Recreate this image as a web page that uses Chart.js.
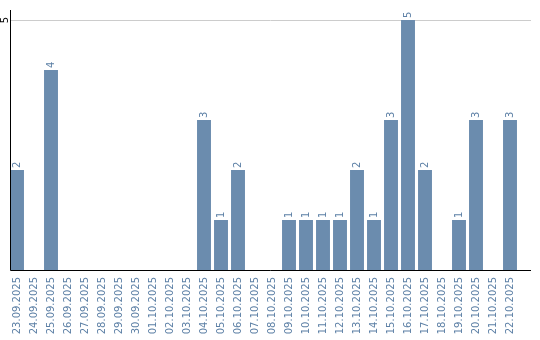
<!DOCTYPE html>
<html>
<head>
<meta charset="utf-8">
<script src="https://cdn.jsdelivr.net/npm/chart.js@4/dist/chart.umd.min.js"></script>
<style>
  html, body { margin: 0; padding: 0; background: #fff; }
  #wrap { width: 540px; height: 340px; }
</style>
</head>
<body>
<div id="wrap"><canvas id="chart"></canvas></div>
<script>
// Data
const days = [
    '23.09.2025', '24.09.2025', '25.09.2025', '26.09.2025', '27.09.2025', '28.09.2025',
    '29.09.2025', '30.09.2025', '01.10.2025', '02.10.2025', '03.10.2025', '04.10.2025',
    '05.10.2025', '06.10.2025', '07.10.2025', '08.10.2025', '09.10.2025', '10.10.2025',
    '11.10.2025', '12.10.2025', '13.10.2025', '14.10.2025', '15.10.2025', '16.10.2025',
    '17.10.2025', '18.10.2025', '19.10.2025', '20.10.2025', '21.10.2025', '22.10.2025'
];
const counts = [2, 0, 4, 0, 0, 0, 0, 0, 0, 0, 0, 3, 1, 2, 0, 0, 1, 1, 1, 1, 2, 1, 3, 5, 2, 0, 1, 3, 0, 3];
const yTicks = [5];

const barColor = '#6b8cae';
const labelColor = '#5d80a6';

Chart.defaults.font.family = 'DejaVu Sans';
Chart.defaults.font.size = 10;

// Gridline, axis lines, y tick and value labels drawn by hand
const decorations = {
    id: 'decorations',
    beforeDatasetsDraw(chart) {
        const ctx = chart.ctx;
        const y = chart.scales.y;
        ctx.save();
        ctx.strokeStyle = '#cccccc';
        ctx.lineWidth = 1;
        yTicks.forEach(v => {
            const py = Math.round(y.getPixelForValue(v)) + 0.5;
            ctx.beginPath();
            ctx.moveTo(10, py);
            ctx.lineTo(531, py);
            ctx.stroke();
        });
        ctx.restore();
    },
    afterDatasetsDraw(chart) {
        const ctx = chart.ctx;
        const y = chart.scales.y;
        const area = chart.chartArea;
        const bottom = Math.round(y.getPixelForValue(0)) + 0.5;
        ctx.save();
        ctx.strokeStyle = '#000';
        ctx.lineWidth = 1;
        ctx.beginPath();
        ctx.moveTo(10.5, area.top);
        ctx.lineTo(10.5, bottom);
        ctx.lineTo(531, bottom);
        ctx.stroke();

        // y tick labels, rotated
        ctx.fillStyle = '#000';
        ctx.font = '10px "DejaVu Sans"';
        yTicks.forEach(v => {
            ctx.save();
            ctx.translate(5, y.getPixelForValue(v));
            ctx.rotate(-Math.PI / 2);
            ctx.textAlign = 'center';
            ctx.textBaseline = 'middle';
            ctx.fillText(String(v), 0, 0);
            ctx.restore();
        });

        // value labels above bars, rotated
        ctx.fillStyle = labelColor;
        const meta = chart.getDatasetMeta(0);
        meta.data.forEach((bar, i) => {
            if (!counts[i]) return;
            ctx.save();
            ctx.translate(bar.x, bar.y - 2);
            ctx.rotate(-Math.PI / 2);
            ctx.textAlign = 'left';
            ctx.textBaseline = 'middle';
            ctx.fillText(String(counts[i]), 0, 0);
            ctx.restore();
        });
        ctx.restore();
    }
};

new Chart(document.getElementById('chart'), {
    type: 'bar',
    data: {
        labels: days,
        datasets: [{
            data: counts,
            backgroundColor: barColor,
            borderWidth: 0,
            categoryPercentage: 1,
            barPercentage: 0.82
        }]
    },
    options: {
        responsive: true,
        maintainAspectRatio: false,
        animation: false,
        layout: { padding: { left: 0, right: 21.5, top: 10, bottom: 0 } },
        plugins: {
            legend: { display: false },
            tooltip: { enabled: false }
        },
        scales: {
            x: {
                grid: { display: false, drawTicks: false },
                border: { display: false },
                ticks: {
                    autoSkip: false,
                    minRotation: 90,
                    maxRotation: 90,
                    padding: 7,
                    color: labelColor,
                    font: { size: 10 }
                },
                afterFit(scale) { scale.height = 70; }
            },
            y: {
                min: 0,
                max: 5.2,
                grid: { display: false },
                border: { display: false },
                ticks: { display: false },
                afterFit(scale) { scale.width = 8.5; }
            }
        }
    },
    plugins: [decorations]
});
</script>
</body>
</html>
